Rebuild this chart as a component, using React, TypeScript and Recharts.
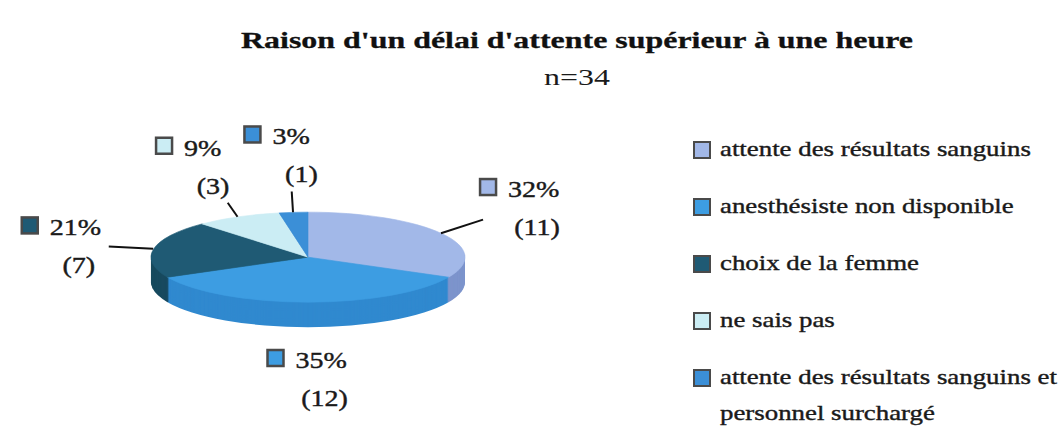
import React from 'react';
import { PieChart, Pie, Cell, Legend } from 'recharts';

const categories = [
  'attente des résultats sanguins',
  'anesthésiste non disponible',
  'choix de la femme',
  'ne sais pas',
  'attente des résultats sanguins et personnel surchargé',
];
const counts = [11, 12, 7, 3, 1];
const legendLines = [
  ['attente des résultats sanguins'],
  ['anesthésiste non disponible'],
  ['choix de la femme'],
  ['ne sais pas'],
  ['attente des résultats sanguins et', 'personnel surchargé'],
];
const topColors = ['#a2b8e8', '#3d9de2', '#1f5a74', '#cbedf4', '#3b8fd7'];
const sideColors = ['#7d94cc', '#3089cf', '#184a5f', '#9fcfdc', '#2a75b8'];
const title = "Raison d'un délai d'attente supérieur à une heure";
const subtitle = 'n=34';

const data = categories.map((name, i) => ({ name, value: counts[i] }));

// geometry of the flattened 3d pie (screen px)
const CX = 307.5;
const CY = 257;
const RX = 157;
const RY = 45;
const DEPTH = 25;
const SY = RY / RX;
const PAD = 4;
const layerW = 2 * RX + 2 * PAD;
const layerH = 2 * RX + 2 * PAD + DEPTH / SY;
const depthSteps = Array.from({ length: DEPTH }, (_, i) => DEPTH - i);

// label ellipse
const LCX = CX + 5;
const LCY = CY + 8;
const LRX = 250;
const LRY = 112;
const SERIF = '"Liberation Serif", "Times New Roman", serif';
const STRETCH = 1.22;

const renderLabel = (props: any) => {
  const { midAngle, index, percent, value } = props;
  const a = (midAngle * Math.PI) / 180;
  const cos = Math.cos(a);
  const sin = Math.sin(a);
  const bx = LCX + LRX * cos;
  const by = LCY - LRY * sin;
  const sx = bx - 45;
  const sy = by - 27;
  let leader = null;
  if (sin > 0) {
    const ex = CX + RX * cos;
    const ey = CY - RY * sin;
    const vx = ex - bx;
    const vy = ey - by;
    const t = Math.min(42 / Math.abs(vx || 1e-6), 38 / Math.abs(vy || 1e-6));
    leader = (
      <line x1={bx + vx * t} y1={by + vy * t} x2={ex} y2={ey} stroke="#111" strokeWidth={2} />
    );
  }
  return (
    <g key={`lbl-${index}`}>
      {leader}
      <rect x={sx} y={sy} width={16} height={16} fill={topColors[index]} stroke="#4a4a4a" strokeWidth={2.5} />
      <text
        transform={`translate(${sx + 28},${sy + 18}) scale(${STRETCH},1)`}
        fontFamily={SERIF}
        fontSize={23}
        fill="#1a1a1a"
        stroke="#1a1a1a"
        strokeWidth={0.4}
      >
        {`${Math.round(percent * 100)}%`}
      </text>
      <text
        transform={`translate(${sx + 57},${sy + 56}) scale(${STRETCH},1)`}
        textAnchor="middle"
        fontFamily={SERIF}
        fontSize={23}
        fill="#1a1a1a"
        stroke="#1a1a1a"
        strokeWidth={0.4}
      >
        {`(${value})`}
      </text>
    </g>
  );
};

const renderLegend = () => (
  <div style={{ position: 'relative', width: 365, height: 300 }}>
    {legendLines.map((lines, i) => (
      <div key={i} style={{ position: 'absolute', left: 0, top: 57 * i }}>
        <div
          style={{
            position: 'absolute',
            left: 0,
            top: 3,
            width: 14,
            height: 14,
            background: topColors[i],
            border: '2px solid #4a4a4a',
          }}
        />
        {lines.map((ln, j) => (
          <div
            key={j}
            style={{
              position: 'absolute',
              left: 27,
              top: j * 36,
              whiteSpace: 'nowrap',
              fontFamily: SERIF,
              fontSize: 22,
              lineHeight: '22px',
              color: '#1a1a1a',
              WebkitTextStroke: '0.4px #1a1a1a',
              transform: `scaleX(${STRETCH})`,
              transformOrigin: 'left center',
            }}
          >
            {ln}
          </div>
        ))}
      </div>
    ))}
  </div>
);

export default function App() {
  return (
    <div
      style={{
        position: 'absolute',
        left: 0,
        top: 0,
        width: 1058,
        height: 430,
        background: '#fff',
        overflow: 'hidden',
      }}
    >
      <div
        style={{
          position: 'absolute',
          left: 0,
          top: 28,
          width: 1154,
          textAlign: 'center',
          fontFamily: SERIF,
          fontWeight: 'bold',
          fontSize: 24,
          lineHeight: '24px',
          color: '#111',
          WebkitTextStroke: '0.3px #111',
          transform: 'scaleX(1.33)',
          transformOrigin: '577px 0',
        }}
      >
        {title}
      </div>
      <div
        style={{
          position: 'absolute',
          left: 0,
          top: 65,
          width: 1154,
          textAlign: 'center',
          fontFamily: SERIF,
          fontSize: 24,
          lineHeight: '24px',
          color: '#1a1a1a',
          transform: 'scaleX(1.33)',
          transformOrigin: '577px 0',
        }}
      >
        {subtitle}
      </div>

      {/* 3d pie: a circular pie squashed vertically, side built from stacked darker copies */}
      <div
        style={{
          position: 'absolute',
          left: CX - layerW / 2,
          top: CY - (RX + PAD) * SY,
          width: layerW,
          height: layerH,
          transform: `scaleY(${SY})`,
          transformOrigin: 'top left',
        }}
      >
        <PieChart width={layerW} height={layerH} margin={{ top: 0, right: 0, bottom: 0, left: 0 }}>
          {depthSteps.map((d) => (
            <Pie
              key={`side-${d}`}
              data={data}
              dataKey="value"
              cx={layerW / 2}
              cy={RX + PAD + d / SY}
              outerRadius={RX}
              startAngle={90}
              endAngle={-270}
              stroke="none"
              isAnimationActive={false}
            >
              {data.map((_, i) => (
                <Cell key={i} fill={sideColors[i]} stroke="none" />
              ))}
            </Pie>
          ))}
          <Pie
            data={data}
            dataKey="value"
            cx={layerW / 2}
            cy={RX + PAD}
            outerRadius={RX}
            startAngle={90}
            endAngle={-270}
            isAnimationActive={false}
          >
            {data.map((_, i) => (
              <Cell key={i} fill={topColors[i]} stroke={topColors[i]} strokeWidth={1} />
            ))}
          </Pie>
        </PieChart>
      </div>

      <div style={{ position: 'absolute', left: 0, top: 0 }}>
        <PieChart width={1058} height={430} margin={{ top: 0, right: 0, bottom: 0, left: 0 }}>
          <Pie
            data={data}
            dataKey="value"
            cx={CX}
            cy={CY}
            outerRadius={RX}
            startAngle={90}
            endAngle={-270}
            fill="transparent"
            stroke="none"
            label={renderLabel}
            labelLine={false}
            isAnimationActive={false}
          />
          <Legend
            layout="vertical"
            align="right"
            verticalAlign="top"
            content={renderLegend}
            wrapperStyle={{ position: 'absolute', left: 693, top: 138, width: 365 }}
          />
        </PieChart>
      </div>
    </div>
  );
}
